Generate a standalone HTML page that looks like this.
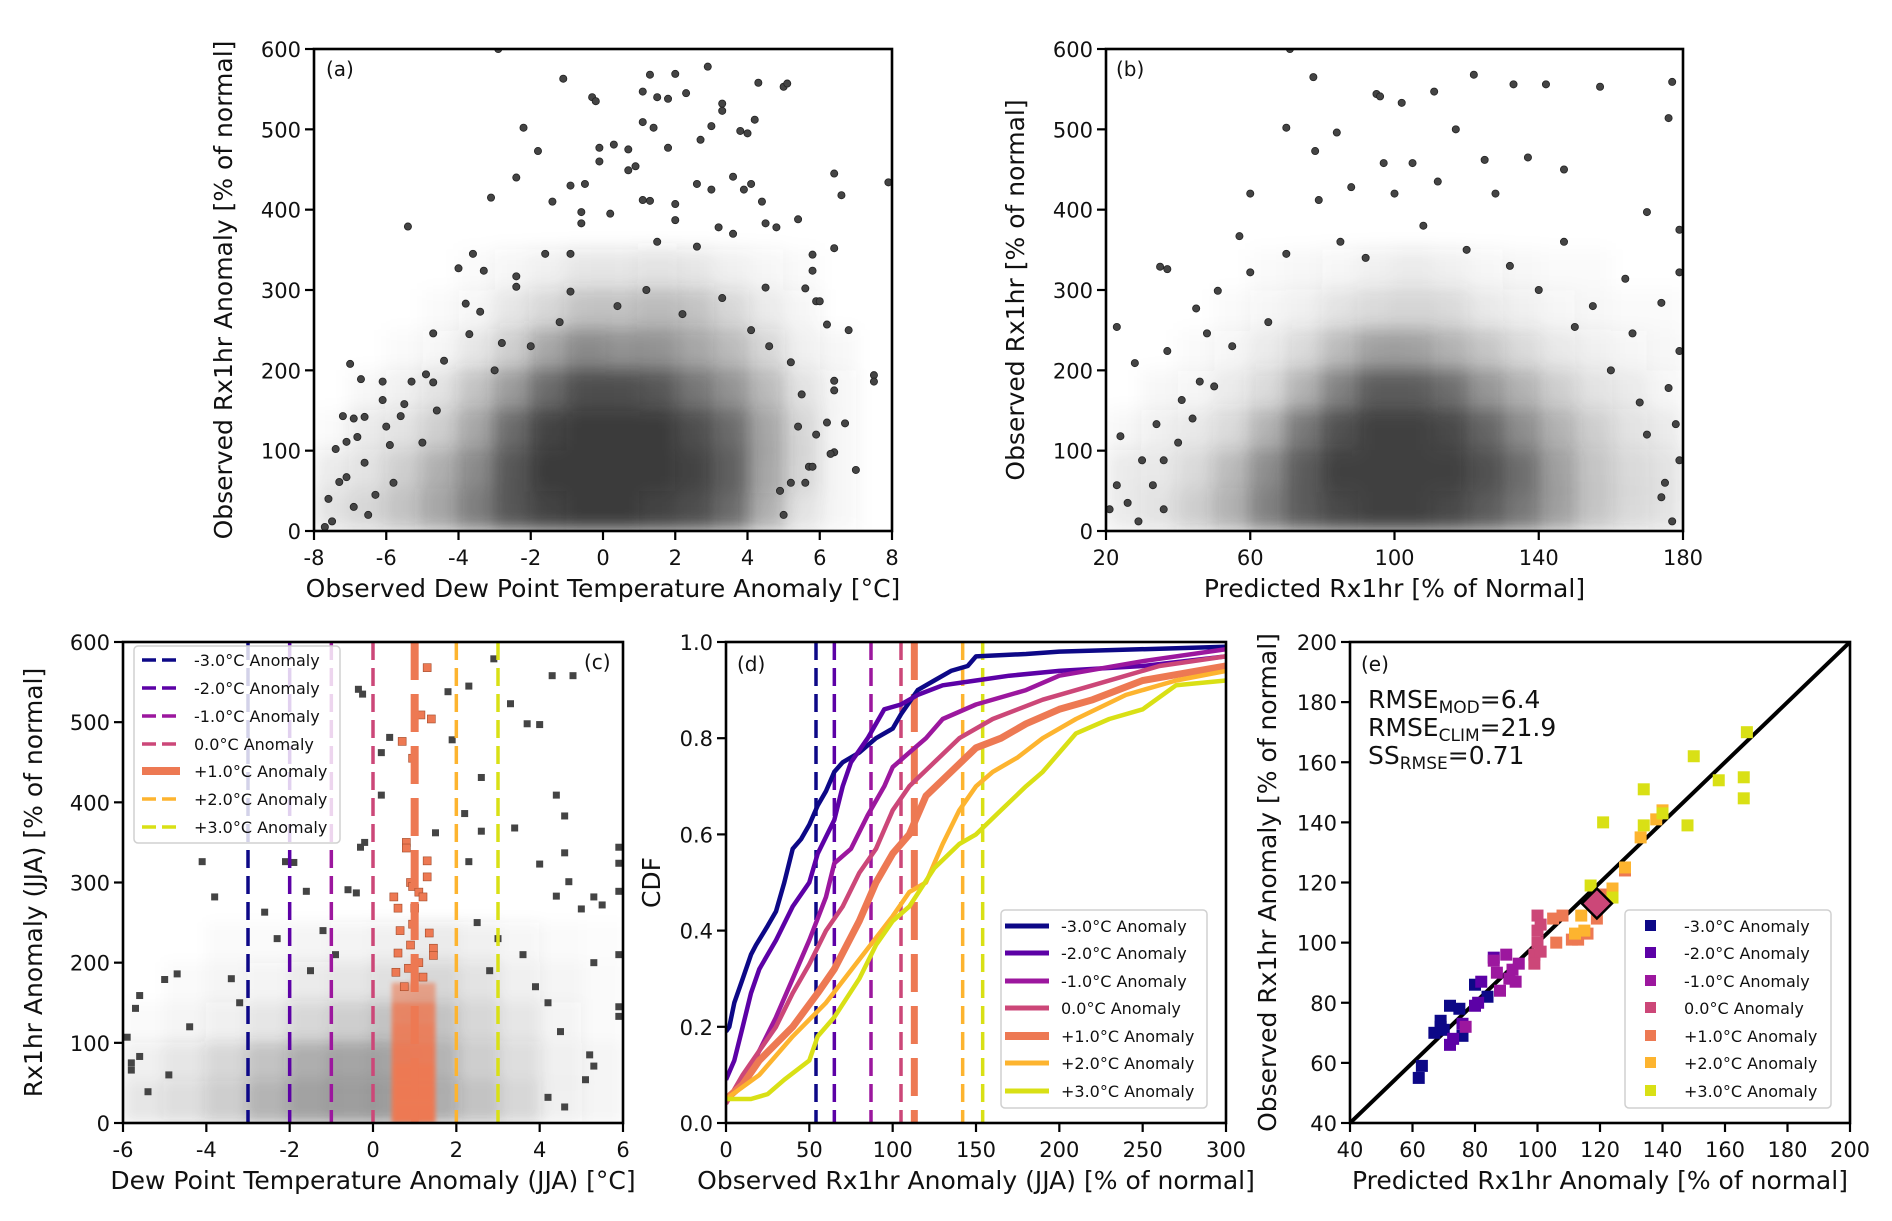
<!DOCTYPE html>
<html><head><meta charset="utf-8">
<style>
html,body{margin:0;padding:0;background:#fff;}
svg{display:block;font-family:"DejaVu Sans","Liberation Sans",sans-serif;}
</style></head>
<body>
<svg id="fig" width="1892" height="1221" viewBox="0 0 1892 1221" xmlns="http://www.w3.org/2000/svg">
<defs>
<filter id="blurA" filterUnits="userSpaceOnUse" x="0" y="0" width="1892" height="1221"><feGaussianBlur stdDeviation="9"/></filter>
<filter id="blurC" filterUnits="userSpaceOnUse" x="0" y="0" width="1892" height="1221"><feGaussianBlur stdDeviation="7"/></filter>
<filter id="blurO" filterUnits="userSpaceOnUse" x="0" y="0" width="1892" height="1221"><feGaussianBlur stdDeviation="2"/></filter>
</defs>
</svg>
<script>
// ---------- Panel (a) data ----------
const aDensityX0 = -8, aDensityDX = 1, aDensityDY = 50;
const aDensity = [
 [0.15,0.2,0.3,0.45,0.65,0.85,0.95,1,1,0.95,0.9,0.75,0.4,0.15,0.05,0],
 [0.1,0.15,0.25,0.4,0.6,0.85,1,1,1,1,0.95,0.8,0.45,0.2,0.05,0],
 [0.02,0.1,0.15,0.25,0.45,0.75,0.95,1,1,1,0.9,0.75,0.45,0.2,0.05,0],
 [0,0.03,0.08,0.15,0.3,0.5,0.75,0.9,0.9,0.85,0.7,0.55,0.35,0.15,0.05,0],
 [0,0,0.02,0.05,0.12,0.25,0.45,0.6,0.55,0.55,0.45,0.35,0.2,0.08,0.03,0],
 [0,0,0,0.02,0.05,0.12,0.2,0.3,0.3,0.35,0.3,0.2,0.1,0.05,0,0],
 [0,0,0,0,0.02,0.05,0.08,0.12,0.12,0.15,0.12,0.08,0.05,0.02,0,0]
];
const aPoints = [[-2.9,600],[-1.1,563],[1.3,568],[2.0,569],[2.9,578],[4.3,558],[5.0,553],[5.1,557],[-0.3,540],[-0.2,535],[1.1,547],[1.5,540],[1.8,538],[2.3,545],[3.3,532],[3.3,523],[-2.2,502],[1.1,509],[1.4,502],[3.0,504],[3.8,498],[4.0,495],[4.2,512],[-0.1,477],[0.3,481],[0.7,475],[1.8,477],[2.7,487],[-1.8,473],[-0.1,460],[-2.4,440],[0.7,449],[0.9,454],[-0.9,430],[-0.5,432],[2.6,432],[3.0,425],[3.6,441],[3.9,425],[4.1,432],[6.4,445],[6.6,418],[7.9,434],[-3.1,415],[-1.4,410],[1.1,412],[1.3,411],[2.0,407],[4.4,410],[-5.4,379],[-0.6,397],[0.2,395],[-0.6,383],[2.0,387],[4.5,383],[4.8,378],[5.4,388],[-4.0,327],[-3.6,345],[-3.3,324],[-2.4,317],[-1.6,345],[-0.9,345],[3.2,378],[3.6,370],[5.8,344],[5.8,324],[6.4,352],[-3.8,283],[-3.4,273],[-2.4,304],[-0.9,298],[1.5,360],[2.6,354],[3.3,290],[4.5,303],[5.6,302],[5.9,286],[6.0,286],[-4.7,246],[-3.7,245],[-2.8,234],[6.2,257],[6.8,250],[-7.0,208],[-6.7,189],[-6.1,186],[-5.3,186],[-4.9,195],[-4.7,185],[-4.4,212],[7.5,194],[7.5,186],[-7.2,143],[-6.9,140],[-6.6,142],[-7.6,40],[-7.4,102],[-6.1,163],[-5.6,143],[-5.5,158],[6.4,187],[6.4,175],[6.2,135],[6.4,98],[6.3,96],[7.0,76],[6.7,134],[5.7,80],[5.8,80],[-7.1,111],[-6.8,117],[-6.0,130],[-5.9,107],[-7.3,61],[-7.1,67],[-6.3,45],[-6.6,85],[-7.7,5],[-7.5,12],[-6.9,30],[5.2,60],[5.6,60],[4.9,50],[5.0,20],[-1.2,260],[0.4,280],[1.2,300],[2.2,270],[-2.0,230],[4.1,250],[4.6,230],[5.2,210],[-3.0,200],[5.5,170],[-5.0,110],[-4.6,150],[-5.8,60],[-6.5,20],[5.9,120],[5.4,130]];
const aXTicks = [-8,-6,-4,-2,0,2,4,6,8];
const aYTicks = [0,100,200,300,400,500,600];

// ---------- Panel (b) data ----------
const bDensityX0 = 20, bDensityDX = 10, bDensityDY = 50;
const bDensity = [
 [0.1,0.15,0.25,0.4,0.65,0.85,0.95,1,1,0.95,0.85,0.7,0.5,0.3,0.2,0.15],
 [0.1,0.12,0.2,0.35,0.6,0.85,1,1,1,1,0.9,0.75,0.5,0.3,0.2,0.15],
 [0.03,0.08,0.12,0.2,0.4,0.7,0.9,1,1,0.95,0.8,0.6,0.4,0.25,0.15,0.1],
 [0,0.03,0.05,0.1,0.2,0.4,0.65,0.85,0.85,0.75,0.55,0.4,0.25,0.15,0.1,0.05],
 [0,0,0.02,0.05,0.1,0.2,0.35,0.5,0.5,0.4,0.3,0.2,0.12,0.08,0.05,0.03],
 [0,0,0,0.02,0.05,0.08,0.15,0.2,0.22,0.2,0.12,0.08,0.05,0.03,0.02,0.02],
 [0,0,0,0,0.02,0.03,0.05,0.08,0.1,0.08,0.05,0.03,0.02,0.02,0,0]
];
const bPoints = [[71,600],[77.5,565],[95,544],[96,541],[102,533],[111,547],[122,568],[133,556],[142,556],[157,553],[177,559],[176,514],[70,502],[78,473],[84,496],[97,458],[105,458],[117,500],[125,462],[137,465],[79,412],[88,428],[100,420],[112,435],[128,420],[147,450],[170,397],[179,375],[35,329],[37,326],[60,420],[57,367],[60,322],[70,345],[147,360],[164,314],[179,322],[23,254],[28,209],[37,224],[45,277],[48,246],[51,299],[166,246],[174,284],[179,224],[24,118],[30,88],[34,133],[36,88],[41,163],[46,186],[176,178],[178,133],[179,88],[174,42],[21,27],[23,57],[29,12],[26,35],[36,27],[33,57],[177,12],[150,254],[85,360],[92,340],[108,380],[120,350],[132,330],[140,300],[155,280],[160,200],[168,160],[65,260],[55,230],[50,180],[44,140],[40,110],[170,120],[175,60]];
const bXTicks = [20,60,100,140,180];
const bYTicks = [0,100,200,300,400,500,600];

// ---------- Panel (c) data ----------
const cDensityX0 = -6, cDensityDX = 1, cDensityDY = 50;
const cDensity = [
 [0.12,0.17,0.25,0.38,0.47,0.5,0.5,0.42,0.3,0.2,0.08,0.04],
 [0.08,0.12,0.2,0.3,0.42,0.46,0.46,0.38,0.25,0.17,0.08,0.04],
 [0.02,0.04,0.08,0.12,0.2,0.25,0.3,0.3,0.2,0.12,0.06,0.02],
 [0,0.02,0.04,0.06,0.1,0.12,0.16,0.2,0.15,0.08,0.04,0.02],
 [0,0,0.02,0.02,0.04,0.06,0.08,0.1,0.08,0.05,0.02,0.01]
];
const cPoints = [[2.9,579],[4.3,558],[4.8,558],[2.3,545],[-0.35,541],[-0.25,535],[1.8,538],[3.3,523],[3.7,498],[4.0,497],[2.6,431],[0.4,481],[1.9,478],[0.2,462],[0.2,409],[4.4,409],[2.2,386],[4.6,383],[3.4,368],[2.6,364],[1.5,362],[-0.2,350],[-0.3,344],[5.9,344],[5.9,324],[-4.1,326],[-2.1,326],[-1.9,325],[-3.8,282],[4.6,337],[2.3,326],[4.0,323],[4.7,301],[5.3,282],[5.5,272],[4.4,283],[-2.6,263],[-1.6,289],[-0.6,291],[-0.4,287],[5.0,267],[5.9,210],[5.3,200],[5.9,289],[-5.0,179],[-4.7,186],[-5.6,159],[-5.7,143],[-5.9,107],[-5.8,75],[-5.6,83],[-5.4,39],[-5.8,66],[4.2,32],[4.6,20],[5.3,71],[5.1,54],[5.2,85],[5.9,133],[5.9,145],[4.5,114],[-1.2,240],[-0.9,210],[2.5,250],[3.0,230],[3.6,210],[-2.3,230],[-1.5,190],[2.8,190],[3.9,170],[-3.4,180],[-3.2,150],[4.2,150],[-4.4,120],[-4.9,60]];
const cOrangeX0 = 0.45, cOrangeX1 = 1.5, cOrangeDY = 25;
const cOrangeDensity = [1,1,1,0.95,0.9,0.85,0.6];
const cOrangePoints = [[1.3,568],[1.4,504],[1.15,509],[0.7,476],[0.95,455],[0.8,350],[0.8,343],[1.3,327],[1.3,307],[0.9,300],[0.95,295],[1.1,288],[0.5,282],[0.6,268],[1.0,268],[1.2,282],[0.95,248],[0.65,240],[0.9,222],[1.35,237],[1.45,218],[0.6,212],[1.45,209],[1.1,200],[0.85,193],[0.55,188],[0.75,170],[1.2,182]];
const cLines = [-3,-2,-1,0,1,2,3];
const cXTicks = [-6,-4,-2,0,2,4,6];
const cYTicks = [0,100,200,300,400,500,600];

// ---------- Panel (d) data ----------
const cdfM3 = [[0,0.19],[2,0.2],[5,0.25],[10,0.3],[15,0.35],[18,0.37],[25,0.41],[30,0.44],[35,0.5],[40,0.57],[45,0.59],[50,0.62],[55,0.66],[60,0.69],[65,0.73],[70,0.75],[80,0.77],[90,0.8],[100,0.82],[105,0.85],[115,0.9],[125,0.92],[135,0.94],[145,0.95],[150,0.97],[180,0.975],[200,0.98],[300,0.99]];
const cdfM2 = [[0,0.09],[5,0.13],[10,0.2],[15,0.27],[20,0.32],[30,0.38],[40,0.45],[50,0.5],[55,0.56],[65,0.63],[70,0.7],[75,0.75],[85,0.8],[95,0.86],[105,0.87],[115,0.89],[130,0.91],[150,0.92],[170,0.93],[200,0.94],[250,0.95],[300,0.97]];
const cdfM1 = [[0,0.05],[10,0.08],[20,0.15],[30,0.22],[40,0.3],[50,0.38],[60,0.47],[65,0.54],[75,0.57],[85,0.64],[95,0.7],[100,0.74],[110,0.77],[120,0.8],[130,0.84],[150,0.87],[180,0.9],[200,0.93],[250,0.96],[300,0.985]];
const cdfZ0 = [[0,0.04],[10,0.1],[20,0.15],[30,0.2],[40,0.27],[50,0.33],[60,0.4],[70,0.45],[80,0.52],[90,0.57],[100,0.65],[110,0.7],[125,0.75],[140,0.8],[160,0.84],[190,0.88],[220,0.91],[260,0.95],[300,0.97]];
const cdfP1 = [[0,0.05],[10,0.08],[20,0.13],[40,0.2],[55,0.27],[65,0.32],[80,0.42],[90,0.5],[100,0.56],[110,0.6],[120,0.68],[135,0.73],[150,0.78],[165,0.8],[180,0.83],[200,0.86],[220,0.88],[250,0.92],[300,0.95]];
const cdfP2 = [[0,0.05],[20,0.1],[40,0.18],[60,0.25],[80,0.34],[100,0.43],[110,0.48],[120,0.5],[130,0.58],[140,0.65],[150,0.7],[160,0.73],[175,0.76],[190,0.8],[210,0.84],[240,0.89],[270,0.92],[300,0.94]];
const cdfP3 = [[0,0.05],[15,0.05],[25,0.06],[35,0.09],[50,0.13],[55,0.18],[65,0.22],[80,0.3],[90,0.37],[100,0.42],[110,0.45],[125,0.53],[140,0.58],[150,0.6],[165,0.65],[180,0.7],[190,0.73],[200,0.77],[210,0.81],[230,0.84],[250,0.86],[270,0.91],[300,0.92]];
const dLines = [54,65,87,105,113,142,154];
const dXTicks = [0,50,100,150,200,250,300];
const dYTicks = [0,0.2,0.4,0.6,0.8,1.0];

// ---------- Panel (e) data ----------
const eM3 = [[62,55],[63,59],[67,70],[69,74],[69,72],[72,79],[75,78],[76,69],[80,86],[84,82],[70,71]];
const eM2 = [[72,66],[73,68],[76,73],[81,80],[82,87],[86,95],[80,79]];
const eM1 = [[86,94],[87,90],[88,84],[90,96],[91,88],[93,87],[94,93],[92,91],[77,72]];
const eZ0 = [[100,109],[100,104],[101,106],[99,96],[100,100],[101,97],[99,93]];
const eP1 = [[106,100],[105,108],[108,109],[111,101],[113,101],[116,103],[119,108],[121,116],[128,124]];
const eP2 = [[112,103],[114,109],[115,104],[124,118],[133,135],[138,141],[140,144],[128,125]];
const eP3 = [[117,119],[121,140],[124,115],[134,151],[134,139],[140,143],[148,139],[150,162],[158,154],[166,155],[166,148],[167,170]];
const eMean = [119,113];
const eTicks = [40,60,80,100,120,140,160,180,200];

const legendLabels = ['-3.0°C Anomaly','-2.0°C Anomaly','-1.0°C Anomaly','0.0°C Anomaly','+1.0°C Anomaly','+2.0°C Anomaly','+3.0°C Anomaly'];
const groupColors = ['#0d0887','#5c01a6','#9c179e','#cc4778','#ed7953','#fdb42f','#d9e015'];

// ---------- helpers ----------
const NS='http://www.w3.org/2000/svg';
const svg=document.getElementById('fig');
function mk(tag, parent, attrs){
  const e=document.createElementNS(NS,tag);
  for(const k in attrs) e.setAttribute(k,attrs[k]);
  parent.appendChild(e);
  return e;
}
function lin(d0,d1,r0,r1){return v=>r0+(v-d0)*(r1-r0)/(d1-d0);}

function panel(id, box, xd, yd){
  const g=mk('g',svg,{});
  
  
  const cp=mk('clipPath',svg,{id:'clip-'+id});
  mk('rect',cp,{x:box.x0,y:box.y0,width:box.x1-box.x0,height:box.y1-box.y0});
  const plot=mk('g',g,{'clip-path':'url(#clip-'+id+')'});
  
  
  return {g, plot, box, sx:lin(xd[0],xd[1],box.x0,box.x1), sy:lin(yd[0],yd[1],box.y1,box.y0)};
}
function frame(P, id, xticks, yticks, xfmt, yfmt, xlabel, ylabel, ylabelX, tag, tagX, tagY){
  const b=P.box;
  const fr=mk('rect',P.g,{x:b.x0,y:b.y0,width:b.x1-b.x0,height:b.y1-b.y0,fill:'none',stroke:'#000','stroke-width':2.6});
  
  
  const xa=mk('g',P.g,{});
  
  
  xticks.forEach(v=>{
    const x=P.sx(v);
    const t=mk('line',xa,{x1:x,x2:x,y1:b.y1,y2:b.y1+9,stroke:'#000','stroke-width':2.2});
    
    
    const l=mk('text',xa,{x:x,y:b.y1+34,'text-anchor':'middle','font-size':21,fill:'#111'});
    
    
    l.textContent=xfmt(v);
  });
  const ya=mk('g',P.g,{});
  
  
  yticks.forEach(v=>{
    const y=P.sy(v);
    const t=mk('line',ya,{x1:b.x0-9,x2:b.x0,y1:y,y2:y,stroke:'#000','stroke-width':2.2});
    
    
    const l=mk('text',ya,{x:b.x0-13,y:y+8,'text-anchor':'end','font-size':21,fill:'#111'});
    
    
    l.textContent=yfmt(v);
  });
  const xl=mk('text',P.g,{x:(b.x0+b.x1)/2,y:b.y1+66,'text-anchor':'middle','font-size':25,fill:'#111'});
  
  
  xl.textContent=xlabel;
  const cy=(b.y0+b.y1)/2;
  const yl=mk('text',P.g,{x:ylabelX,y:cy,'text-anchor':'middle','font-size':25,fill:'#111',transform:'rotate(-90 '+ylabelX+' '+cy+')'});
  
  
  yl.textContent=ylabel;
  const tg=mk('text',P.g,{x:tagX,y:tagY,'font-size':20,fill:'#111'});
  
  
  tg.textContent=tag;
}
function density(P, grid, x0, dx, dy, color, filt, id){
  const g=mk('g',P.plot,{filter:'url(#'+filt+')'});
  
  
  grid.forEach((row,ri)=>row.forEach((v,ci)=>{
    if(v<=0) return;
    const xa=P.sx(x0+ci*dx), xb=P.sx(x0+(ci+1)*dx);
    const ya=P.sy((ri+1)*dy), yb=P.sy(ri*dy);
    const r=mk('rect',g,{x:xa-0.5,y:ya-0.5,width:xb-xa+1,height:yb-ya+1,fill:color,'fill-opacity':v});
    
    
  }));
}
function dots(P, pts, id){
  const g=mk('g',P.plot,{});
  
  
  pts.forEach(p=>{
    const c=mk('circle',g,{cx:P.sx(p[0]),cy:P.sy(p[1]),r:3.6,fill:'#444',stroke:'#222','stroke-width':0.8});
    
    
  });
}
function squares(P, pts, id, color, size, stroke){
  const g=mk('g',P.plot,{});
  
  
  pts.forEach(p=>{
    const s=mk('rect',g,{x:P.sx(p[0])-size/2,y:P.sy(p[1])-size/2,width:size,height:size,fill:color,stroke:stroke||'none','stroke-width':0.6});
    
    
  });
}
function legend(parent, id, x, y, w, h, rowY, drawHandle, textX){
  const g=mk('g',parent,{});
  
  
  mk('rect',g,{x:x,y:y,width:w,height:h,rx:4,fill:'#fff','fill-opacity':0.82,stroke:'#d0d0d0','stroke-width':1.5});
  legendLabels.forEach((lab,i)=>{
    const e=mk('g',g,{});
    
    
    const yy=rowY[i];
    drawHandle(e,i,yy);
    const t=mk('text',e,{x:textX,y:yy+6,'font-size':16,fill:'#111'});
    
    
    t.textContent=lab;
  });
}
const legendRows=[660,688,716,744,771,799,827];
const legendRowsLow=[926,953,981,1008,1036,1063,1091];
const fmtInt=v=>String(v);

// ---------- (a) ----------
const A=panel('a',{x0:314,x1:892,y0:49,y1:531},[-8,8],[0,600]);
density(A,aDensity,aDensityX0,aDensityDX,aDensityDY,'#3a3a3a','blurA','a');
dots(A,aPoints,'a');
frame(A,'a',aXTicks,aYTicks,fmtInt,fmtInt,'Observed Dew Point Temperature Anomaly [°C]','Observed Rx1hr Anomaly [% of normal]',232,'(a)',326,76);

// ---------- (b) ----------
const B=panel('b',{x0:1106,x1:1683,y0:49,y1:531},[20,180],[0,600]);
density(B,bDensity,bDensityX0,bDensityDX,bDensityDY,'#3f3f3f','blurA','b');
dots(B,bPoints,'b');
frame(B,'b',bXTicks,bYTicks,fmtInt,fmtInt,'Predicted Rx1hr [% of Normal]','Observed Rx1hr [% of normal]',1024,'(b)',1116,76);

// ---------- (c) ----------
const C=panel('c',{x0:123,x1:623,y0:642,y1:1123},[-6,6],[0,600]);
density(C,cDensity,cDensityX0,cDensityDX,cDensityDY,'#3c3c3c','blurC','c');
squares(C,cPoints,'c-gray','#444',7);
(function(){
  const g=mk('g',C.plot,{filter:'url(#blurO)'});
  
  
  cOrangeDensity.forEach((v,i)=>{
    const r=mk('rect',g,{x:C.sx(cOrangeX0),y:C.sy((i+1)*cOrangeDY),width:C.sx(cOrangeX1)-C.sx(cOrangeX0),height:C.sy(0)-C.sy(cOrangeDY),fill:'#ed7953','fill-opacity':v});
    
    
  });
})();
squares(C,cOrangePoints,'c-orange','#ed7953',8,'#a04a2a');
cLines.forEach((v,i)=>{
  const thick=i===4;
  const l=mk('line',C.plot,{x1:C.sx(v),x2:C.sx(v),y1:C.box.y0,y2:C.box.y1,stroke:groupColors[i],'stroke-width':thick?8:3.5,'stroke-dasharray':thick?'38 14':'18 8'});
  
  
});
legend(C.g,'c',134,646,206,197,legendRows,(e,i,yy)=>{
  const thick=i===4;
  const l=mk('line',e,{x1:142,x2:180,y1:yy,y2:yy,stroke:groupColors[i],'stroke-width':thick?8:3.5,'stroke-dasharray':thick?'none':'14 6'});
  
  
},194);
frame(C,'c',cXTicks,cYTicks,fmtInt,fmtInt,'Dew Point Temperature Anomaly (JJA) [°C]','Rx1hr Anomaly (JJA) [% of normal]',42,'(c)',584,669);

// ---------- (d) ----------
const D=panel('d',{x0:726,x1:1226,y0:642,y1:1123},[0,300],[0,1]);
dLines.forEach((v,i)=>{
  const thick=i===4;
  const l=mk('line',D.plot,{x1:D.sx(v),x2:D.sx(v),y1:D.box.y0,y2:D.box.y1,stroke:groupColors[i],'stroke-width':thick?7:3.5,'stroke-dasharray':thick?'38 14':'18 8'});
  
  
});
[cdfM3,cdfM2,cdfM1,cdfZ0,cdfP1,cdfP2,cdfP3].forEach((s,i)=>{
  const p=mk('polyline',D.plot,{points:s.map(q=>D.sx(q[0]).toFixed(1)+','+D.sy(q[1]).toFixed(1)).join(' '),fill:'none',stroke:groupColors[i],'stroke-width':i===4?7:4.5,'stroke-linejoin':'round'});
  
  
});
legend(D.g,'d',1001,910,206,198,legendRowsLow,(e,i,yy)=>{
  const l=mk('line',e,{x1:1005,x2:1049,y1:yy,y2:yy,stroke:groupColors[i],'stroke-width':i===4?8:5});
  
  
},1061);
frame(D,'d',dXTicks,dYTicks,fmtInt,v=>v.toFixed(1),'Observed Rx1hr Anomaly (JJA) [% of normal]','CDF',660,'(d)',737,671);

// ---------- (e) ----------
const E=panel('e',{x0:1350,x1:1850,y0:642,y1:1123},[40,200],[40,200]);
(function(){
  const l=mk('line',E.plot,{x1:E.sx(40),y1:E.sy(40),x2:E.sx(200),y2:E.sy(200),stroke:'#000','stroke-width':4});
  
  
})();
[eM3,eM2,eM1,eZ0,eP1,eP2,eP3].forEach((s,i)=>squares(E,s,'e-group-'+i,groupColors[i],12));
(function(){
  const cx=E.sx(eMean[0]), cy=E.sy(eMean[1]), r=15;
  const d=mk('polygon',E.plot,{points:[cx,cy-r,cx+r,cy,cx,cy+r,cx-r,cy].join(' '),fill:'#cc4778',stroke:'#000','stroke-width':2.5});
  
  
})();
legend(E.g,'e',1625,910,206,198,legendRowsLow,(e,i,yy)=>{
  const s=mk('rect',e,{x:1645,y:yy-6,width:11,height:11,fill:groupColors[i]});
  
  
},1684);
(function(){
  const lines=[['RMSE','MOD','=6.4',708],['RMSE','CLIM','=21.9',736],['SS','RMSE','=0.71',764]];
  lines.forEach(L=>{
    const t=mk('text',E.g,{x:1368,y:L[3],'font-size':25,fill:'#111'});
    
    
    const a=mk('tspan',t,{}); a.textContent=L[0];
    const b=mk('tspan',t,{'font-size':17,dy:5}); b.textContent=L[1];
    const c=mk('tspan',t,{dy:-5}); c.textContent=L[2];
  });
})();
frame(E,'e',eTicks,eTicks,fmtInt,fmtInt,'Predicted Rx1hr Anomaly [% of normal]','Observed Rx1hr Anomaly [% of normal]',1276,'(e)',1361,671);
</script>
</body></html>
